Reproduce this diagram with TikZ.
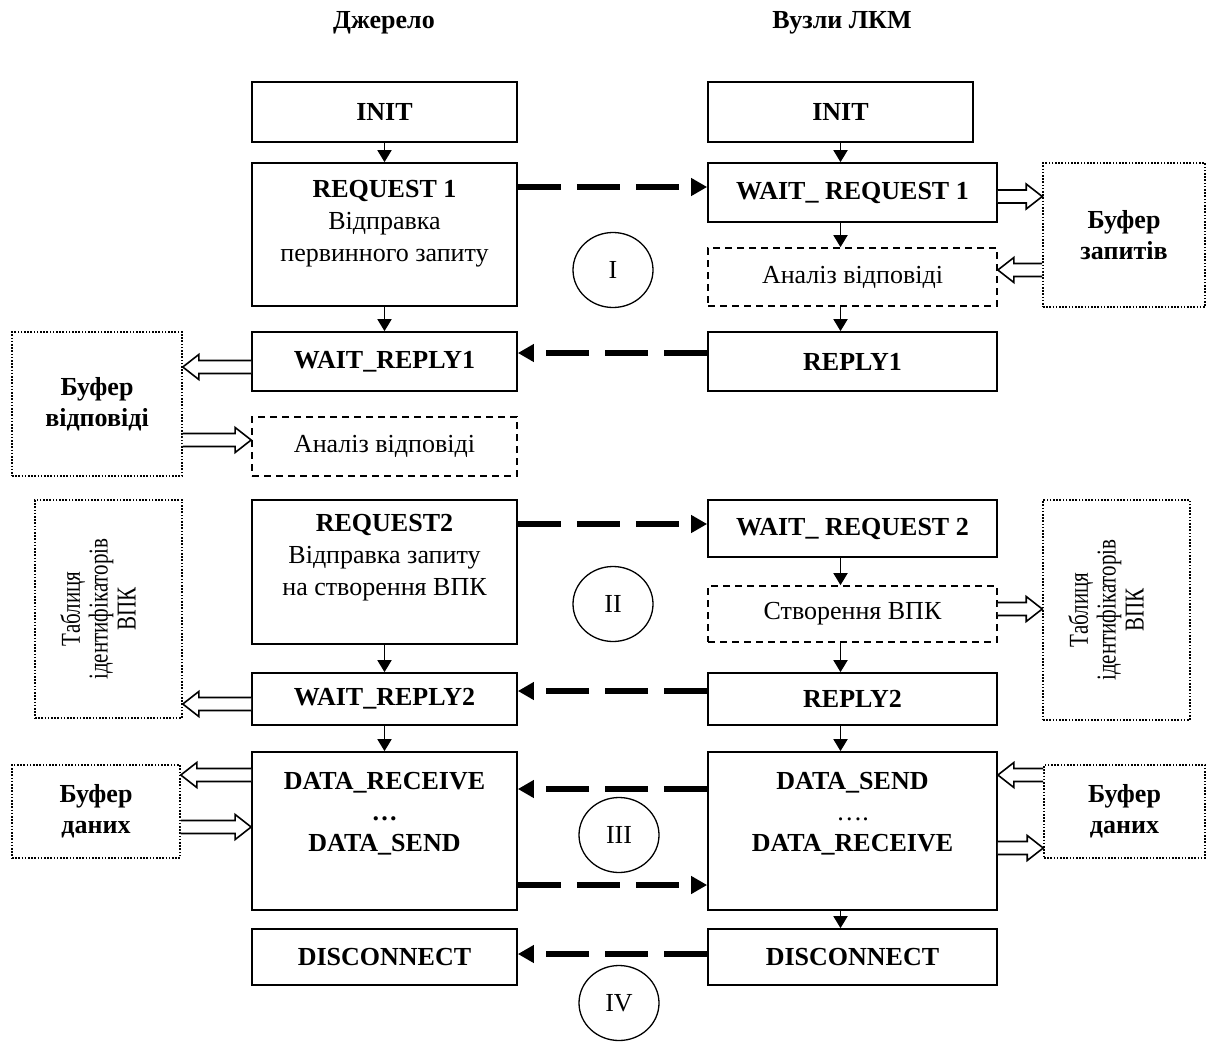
\documentclass[tikz,border=0pt]{standalone}
\usepackage{fontspec}
\setmainfont{Liberation Serif}
\usetikzlibrary{arrows.meta,calc,shapes.geometric}
\newcommand\blockarrow[2]{%
  \draw[hollow] let \p1=#1, \p2=#2, \n1={ifthenelse(\x2>\x1,1,-1)} in
    (\x1,\y1+6.5pt) -- ({\x2-\n1*16pt},\y1+6.5pt) -- ({\x2-\n1*16pt},\y1+12.5pt)
    -- (\x2,\y1) -- ({\x2-\n1*16pt},\y1-12.5pt) -- ({\x2-\n1*16pt},\y1-6.5pt) -- (\x1,\y1-6.5pt);%
}
\begin{document}
\begin{tikzpicture}[x=1pt,y=-1pt,
  font=\fontsize{26}{31}\selectfont,
  box/.style={draw, line width=1.7pt, inner sep=0pt, align=center},
  dbox/.style={box, dash pattern=on 7pt off 5pt},
  dotbox/.style={draw, line width=1.6pt, dash pattern=on 1.6pt off 1.6pt, inner sep=0pt, align=center},
  vtext/.style={rotate=90, yscale=1.3, align=center, font=\fontsize{21}{21.5}\selectfont},
  txt/.style={align=center, inner sep=0pt},
  down/.style={line width=1.8pt, -{Triangle[length=12pt,width=14pt]}},
  msg/.style={line width=5.5pt, dash pattern=on 43pt off 16pt, -{Triangle[length=16pt,width=17pt]}},
  hollow/.style={line width=1.6pt, fill=white, line join=miter},
  phase/.style={ellipse, draw, line width=1.3pt, minimum width=80pt, minimum height=75pt, inner sep=0pt},
]
\useasboundingbox (0,0) rectangle (1206,1041);

% headings
\node[txt, font=\fontsize{26}{31}\selectfont\bfseries] (h1) at (384,23) {Джерело};
\node[txt, font=\fontsize{26}{31}\selectfont\bfseries] (h2) at (842,23) {Вузли ЛКМ};

% left column
\node[box, minimum width=265pt, minimum height=60pt] (linit) at (384.5,112) {\bfseries INIT};
\node[box, minimum width=265pt, minimum height=143pt] (lreq1) at (384.5,234.5) {};
\node[txt, font=\fontsize{26}{32}\selectfont] (lreq1t) at (384.5,224) {\bfseries REQUEST 1\\Відправка\\первинного запиту};
\node[box, minimum width=265pt, minimum height=59pt] (lwrep1) at (384.5,361.5) {\bfseries WAIT\_REPLY1};
\node[dbox, minimum width=265pt, minimum height=59pt] (lan1) at (384.5,446.5) {Аналіз відповіді};
\node[box, minimum width=265pt, minimum height=144pt] (lreq2) at (384.5,572) {};
\node[txt, font=\fontsize{26}{32}\selectfont] (lreq2t) at (384.5,558) {\bfseries REQUEST2\\Відправка запиту\\на створення ВПК};
\node[box, minimum width=265pt, minimum height=52pt] (lwrep2) at (384.5,699) {\bfseries WAIT\_REPLY2};
\node[box, minimum width=265pt, minimum height=158pt] (ldr) at (384.5,831) {};
\node[txt, font=\fontsize{26}{31}\selectfont\bfseries] (ldrt) at (384.5,814) {DATA\_RECEIVE\\…\\DATA\_SEND};
\node[box, minimum width=265pt, minimum height=56pt] (ldis) at (384.5,957) {\bfseries DISCONNECT};

% right column
\node[box, minimum width=265pt, minimum height=60pt] (rinit) at (840.5,112) {\bfseries INIT};
\node[box, minimum width=289pt, minimum height=59pt] (rwreq1) at (852.5,192.5) {\bfseries WAIT\_ REQUEST 1};
\node[dbox, minimum width=289pt, minimum height=58pt] (ran1) at (852.5,277) {Аналіз відповіді};
\node[box, minimum width=289pt, minimum height=59pt] (rrep1) at (852.5,361.5) {\bfseries REPLY1};
\node[box, minimum width=289pt, minimum height=57pt] (rwreq2) at (852.5,528.5) {\bfseries WAIT\_ REQUEST 2};
\node[dbox, minimum width=289pt, minimum height=56pt] (rcr) at (852.5,614) {Створення ВПК};
\node[box, minimum width=289pt, minimum height=52pt] (rrep2) at (852.5,699) {\bfseries REPLY2};
\node[box, minimum width=289pt, minimum height=158pt] (rds) at (852.5,831) {};
\node[txt] (rdst) at (852.5,814) {\bfseries DATA\_SEND\\….\\\bfseries DATA\_RECEIVE};
\node[box, minimum width=289pt, minimum height=56pt] (rdis) at (852.5,957) {\bfseries DISCONNECT};

% side stores
\node[dotbox, minimum width=162pt, minimum height=144pt] (bz) at (1124,235) {\bfseries Буфер\\\bfseries запитів};
\node[dotbox, minimum width=170pt, minimum height=144pt] (bv) at (97,404) {\bfseries Буфер\\\bfseries відповіді};
\node[dotbox, minimum width=147pt, minimum height=218pt] (tl) at (108.5,609) {};
\node[vtext] (tlt) at (98,609) {Таблиця\\ідентифікаторів\\ВПК};
\node[dotbox, minimum width=147pt, minimum height=220pt] (tr) at (1116.5,610) {};
\node[vtext] (trt) at (1106,610) {Таблиця\\ідентифікаторів\\ВПК};
\node[dotbox, minimum width=168pt, minimum height=93pt] (bdl) at (96,811.5) {\bfseries Буфер\\\bfseries даних};
\node[dotbox, minimum width=161pt, minimum height=93pt] (bdr) at (1124.5,811.5) {\bfseries Буфер\\\bfseries даних};

% phases
\node[phase] (p1) at (613,270) {I};
\node[phase] (p2) at (613,604) {II};
\node[phase] (p3) at (619,835) {III};
\node[phase] (p4) at (619,1003) {IV};

% control flow
\draw[down] (linit.south) -- (lreq1.north);
\draw[down] (lreq1.south) -- (lwrep1.north);
\draw[down] (lreq2.south) -- (lwrep2.north);
\draw[down] (lwrep2.south) -- (ldr.north);
\draw[down] (rinit.south) -- (rinit.south |- rwreq1.north);
\draw[down] (rinit.south |- rwreq1.south) -- (rinit.south |- ran1.north);
\draw[down] (rinit.south |- ran1.south) -- (rinit.south |- rrep1.north);
\draw[down] (rinit.south |- rwreq2.south) -- (rinit.south |- rcr.north);
\draw[down] (rinit.south |- rcr.south) -- (rinit.south |- rrep2.north);
\draw[down] (rinit.south |- rrep2.south) -- (rinit.south |- rds.north);
\draw[down] (rinit.south |- rds.south) -- (rinit.south |- rdis.north);

% messages
\draw[msg] (lreq1.east |- 0,187) -- (rwreq1.west |- 0,187);
\draw[msg] (rrep1.west |- 0,353) -- (lwrep1.east |- 0,353);
\draw[msg] (lreq2.east |- 0,524) -- (rwreq2.west |- 0,524);
\draw[msg] (rrep2.west |- 0,691) -- (lwrep2.east |- 0,691);
\draw[msg] (rds.west |- 0,789) -- (ldr.east |- 0,789);
\draw[msg] (ldr.east |- 0,885) -- (rds.west |- 0,885);
\draw[msg] (rdis.west |- 0,954) -- (ldis.east |- 0,954);

% block arrows to/from stores
\blockarrow{(rwreq1.east |- 0,196.5)}{(bz.west |- 0,196.5)}
\blockarrow{(bz.west |- 0,270)}{(ran1.east |- 0,270)}
\blockarrow{(lwrep1.west |- 0,367)}{(bv.east |- 0,367)}
\blockarrow{(bv.east |- 0,440)}{(lan1.west |- 0,440)}
\blockarrow{(lwrep2.west |- 0,704)}{(tl.east |- 0,704)}
\blockarrow{(rcr.east |- 0,609)}{(tr.west |- 0,609)}
\blockarrow{(ldr.west |- 0,775)}{(bdl.east |- 0,775)}
\blockarrow{(bdl.east |- 0,827)}{(ldr.west |- 0,827)}
\blockarrow{(bdr.west |- 0,775)}{(rds.east |- 0,775)}
\blockarrow{(rds.east |- 0,848)}{(bdr.west |- 0,848)}
\end{tikzpicture}
\end{document}
